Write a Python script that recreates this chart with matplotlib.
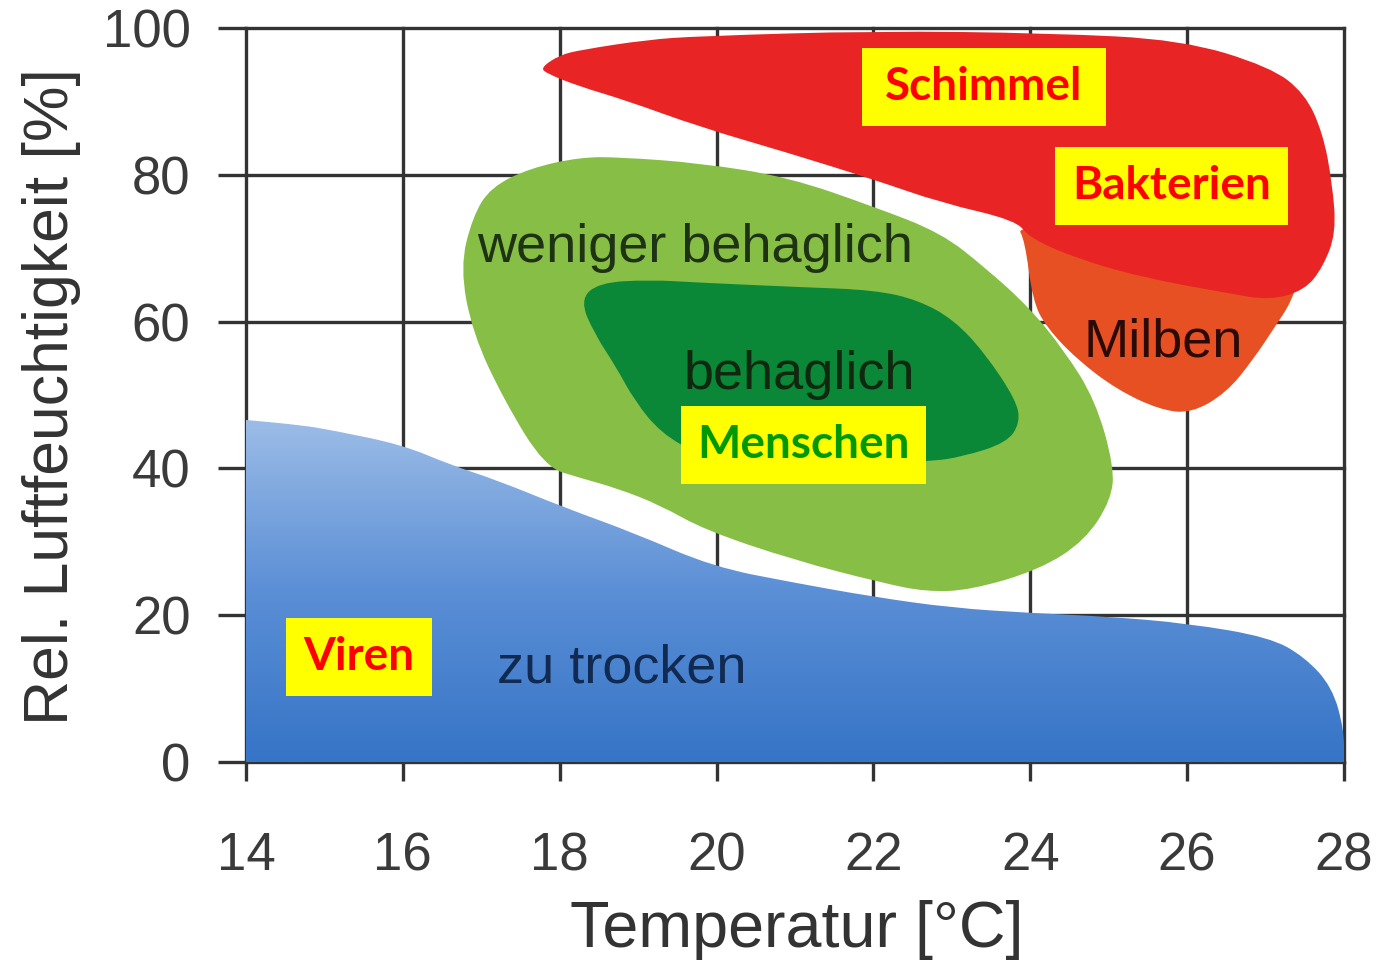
import numpy as np
import matplotlib
matplotlib.use('Agg')
import matplotlib.pyplot as plt
from matplotlib.path import Path
from matplotlib.patches import PathPatch, Rectangle
from matplotlib.colors import LinearSegmentedColormap

# axis ticks
temp_ticks = [14, 16, 18, 20, 22, 24, 26, 28]
hum_ticks = [0, 20, 40, 60, 80, 100]

# "zu trocken" (Viren) - upper boundary, filled down to 0
dry_temp = [14.0, 14.7, 15.1, 16.0, 16.6, 17.2, 18.05, 18.95, 19.95, 21.0, 22.0, 23.0, 24.0, 25.0, 26.0, 27.05, 27.5, 27.85, 28.0, 28.0]
dry_hum = [46.6, 45.9, 45.2, 43.2, 40.5, 38.4, 34.7, 31.2, 26.6, 24.4, 22.5, 21.0, 20.3, 19.8, 18.9, 17.0, 14.3, 10.2, 4.4, 0.0]

# "weniger behaglich" outline
outer_temp = [17.81, 18.26, 18.73, 19.28, 19.85, 20.99, 22.11, 22.67, 23.23, 24.12, 24.70, 25.03, 25.07, 24.83, 24.43, 23.98, 23.42, 22.86, 22.02, 20.91, 19.79, 18.77, 18.26, 17.62, 17.12, 16.89, 16.73, 16.89, 17.29]
outer_hum = [40.2, 38.7, 37.3, 35.0, 31.6, 27.5, 24.4, 23.2, 23.4, 26.2, 30.2, 35.7, 40.2, 49.3, 56.1, 62.0, 67.4, 72.1, 75.6, 79.7, 81.6, 82.4, 82.4, 80.9, 78.3, 74.3, 67.4, 58.4, 49.3]

# "behaglich" outline
comfort_temp = [18.49, 19.15, 19.79, 21.06, 22.02, 22.58, 23.03, 23.42, 23.82, 23.87, 23.70, 23.14, 22.70, 21.06, 19.79, 19.29, 18.95, 18.72, 18.44, 18.26]
comfort_hum = [65.3, 65.7, 65.3, 64.7, 64.3, 62.9, 60.2, 55.7, 49.3, 46.2, 43.5, 41.6, 40.9, 40.5, 41.8, 44.8, 49.3, 53.8, 58.4, 62.9]

# Milben outline
mites_temp = [23.82, 23.93, 24.03, 24.20, 24.60, 25.11, 25.65, 26.05, 26.50, 26.84, 27.12, 27.34, 27.44, 25.53]
mites_hum = [73.2, 71.1, 62.9, 59.3, 54.8, 50.7, 48.0, 47.5, 50.3, 54.8, 59.3, 62.9, 67.0, 71.1]

# Schimmel / Bakterien outline
mold_temp = [17.77, 18.0, 18.26, 19.11, 19.79, 22.02, 24.26, 25.93, 27.06, 27.5, 27.73, 27.85, 27.9, 27.73, 27.5, 27.06, 26.5, 25.39, 24.54, 23.98, 23.82, 22.86, 22.02, 20.91, 19.79, 18.83, 18.26, 17.81]
mold_hum = [94.7, 96.3, 97.0, 98.4, 98.9, 99.6, 99.3, 98.4, 94.7, 91.1, 85.7, 78.9, 72.1, 67.4, 64.3, 62.9, 63.9, 66.1, 68.8, 71.5, 73.8, 76.2, 79.3, 83.0, 86.5, 90.2, 92.0, 93.9]

# zone labels inside the chart
zone_labels = ['weniger behaglich', 'behaglich', 'Milben', 'zu trocken']
zone_x = [19.72, 21.06, 25.69, 18.79]
zone_y = [70.0, 52.7, 57.2, 12.8]
zone_colors = ['#1e3214', '#10280f', '#2a0a04', '#102a52']

# yellow boxes: label, x0, x1, y0, y1 (data units)
box_labels = ['Schimmel', 'Bakterien', 'Menschen', 'Viren']
box_x0 = [21.85, 24.32, 19.55, 14.51]
box_x1 = [24.97, 27.29, 22.67, 16.37]
box_y0 = [86.6, 73.2, 37.9, 9.0]
box_y1 = [97.3, 83.8, 48.5, 19.6]
box_colors = ['#ff0000', '#ff0000', '#009900', '#ff0000']


def smooth_path(xs, ys, closed=True):
    pts = np.column_stack([xs, ys])
    if closed:
        mids = (pts + np.roll(pts, -1, axis=0)) / 2
        verts = [mids[-1]]
        codes = [Path.MOVETO]
        for i in range(len(pts)):
            verts += [pts[i], mids[i]]
            codes += [Path.CURVE3, Path.CURVE3]
        verts.append(mids[-1])
        codes.append(Path.CLOSEPOLY)
        return verts, codes
    mids = (pts[:-1] + pts[1:]) / 2
    verts = [pts[0], mids[0]]
    codes = [Path.MOVETO, Path.LINETO]
    for i in range(1, len(pts) - 1):
        verts += [pts[i], mids[i]]
        codes += [Path.CURVE3, Path.CURVE3]
    verts.append(pts[-1])
    codes.append(Path.LINETO)
    return verts, codes


def smooth_patch(ax, xs, ys, **kw):
    verts, codes = smooth_path(xs, ys)
    patch = PathPatch(Path(verts, codes), **kw)
    ax.add_patch(patch)
    return patch


fig = plt.figure(figsize=(13.83, 9.65), dpi=100)
ax = fig.add_axes([246 / 1383, 203 / 965, 1098 / 1383, 734 / 965])

# blue area with vertical gradient
verts, codes = smooth_path(dry_temp, dry_hum, closed=False)
verts += [(dry_temp[0], 0.0), (dry_temp[0], dry_hum[0])]
codes += [Path.LINETO, Path.CLOSEPOLY]
dry = PathPatch(Path(verts, codes), facecolor='none', edgecolor='none',
                transform=ax.transData)
ax.add_patch(dry)
cmap = LinearSegmentedColormap.from_list('dry', ['#3674c6', '#5b8fd6', '#9dbde7'])
grad = np.linspace(0, 1, 256).reshape(-1, 1)
img = ax.imshow(grad, extent=[14, 28, 0, 47], origin='lower', cmap=cmap,
                aspect='auto', zorder=1)
img.set_clip_path(dry)

smooth_patch(ax, outer_temp, outer_hum, facecolor='#87be46', edgecolor='none', zorder=2)
smooth_patch(ax, comfort_temp, comfort_hum, facecolor='#0a8737', edgecolor='none', zorder=3)
smooth_patch(ax, mites_temp, mites_hum, facecolor='#e65023', edgecolor='none', zorder=2)
smooth_patch(ax, mold_temp, mold_hum, facecolor='#e82424', edgecolor='none', zorder=3)

for s, x, y, c in zip(zone_labels, zone_x, zone_y, zone_colors):
    ax.text(x, y, s, ha='center', va='center', fontsize=39, color=c,
            family=['Liberation Sans', 'DejaVu Sans'], zorder=4)

for s, x0, x1, y0, y1, c in zip(box_labels, box_x0, box_x1, box_y0, box_y1, box_colors):
    ax.add_patch(Rectangle((x0, y0), x1 - x0, y1 - y0, facecolor='#ffff00',
                           edgecolor='none', zorder=5))
    ax.text((x0 + x1) / 2, (y0 + y1) / 2, s, ha='center', va='center',
            fontsize=33, fontweight='bold', color=c, family=['Lato', 'DejaVu Sans'],
            zorder=6)

ax.set_xlim(14, 28)
ax.set_ylim(0, 100)
ax.set_xticks(temp_ticks)
ax.set_yticks(hum_ticks)
for sp in ax.spines.values():
    sp.set_visible(False)
ax.grid(True, color='#333333', linewidth=2.4)
ax.set_axisbelow(True)
for gl in ax.get_xgridlines() + ax.get_ygridlines():
    gl.set_clip_on(False)
    gl.set_zorder(0)

ax.tick_params(axis='y', length=20, width=2.4, color='#333333', pad=20,
               labelsize=38, labelcolor='#3a3a3a')
ax.tick_params(axis='x', length=14, width=2.4, color='#333333', pad=36,
               labelsize=38, labelcolor='#3a3a3a')
for lab in ax.get_xticklabels() + ax.get_yticklabels():
    lab.set_family(['Liberation Sans', 'DejaVu Sans'])

fig.text(52 / 1383, 1 - 397 / 965, 'Rel. Luftfeuchtigkeit [%]', rotation=90,
         ha='center', va='center', fontsize=45, color='#333333',
         family=['Liberation Sans', 'DejaVu Sans'])
fig.text(797 / 1383, 1 - 930 / 965, 'Temperatur [°C]', ha='center', va='center',
         fontsize=46.5, color='#333333', family=['Liberation Sans', 'DejaVu Sans'])

fig.savefig('out.png', dpi=100, facecolor='white')
